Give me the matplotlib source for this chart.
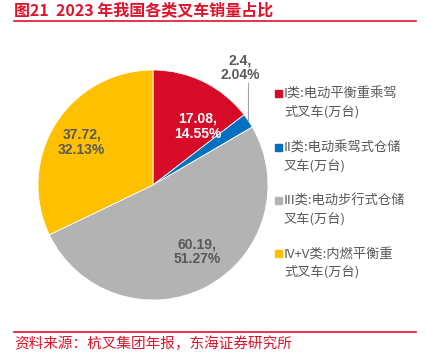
import matplotlib
matplotlib.use("Agg")
import matplotlib.pyplot as plt

W, H = 426, 357
categories = ["I类:电动平衡重乘驾\n式叉车(万台)", "II类:电动乘驾式仓储\n叉车(万台)",
              "III类:电动步行式仓储\n叉车(万台)", "IV+V类:内燃平衡重\n式叉车(万台)"]
values = [17.08, 2.4, 60.19, 37.72]
percents = ["14.55%", "2.04%", "51.27%", "32.13%"]
colors = ["#D70A28", "#0070C0", "#B3B3B3", "#FFC000"]
label_colors = ["white", "#595959", "#595959", "#595959"]

cjk = ["Noto Sans CJK SC", "DejaVu Sans"]
num = ["Liberation Sans", "DejaVu Sans"]
red = "#E0132A"

fig = plt.figure(figsize=(W / 100, H / 100), dpi=100)

def fx(px):
    return px / W

def fy(py):
    return 1 - py / H

# title and rules
fig.text(fx(14), fy(10), "图21  2023 年我国各类叉车销量占比", family=cjk, fontsize=11.5,
         fontweight="bold", color=red, va="center", ha="left")
fig.add_artist(plt.Line2D([fx(14), fx(416)], [fy(20.5), fy(20.5)], color=red, lw=1.2))
fig.add_artist(plt.Line2D([fx(14), fx(416)], [fy(332), fy(332)], color=red, lw=1.2))
fig.text(fx(14), fy(344), "资料来源：杭叉集团年报，东海证券研究所", family=cjk, fontsize=10.5,
         color=red, va="center", ha="left")

# pie
cx, cy, r = 153, 185, 115
ax = fig.add_axes([fx(cx - r), fy(cy + r), 2 * r / W, 2 * r / H])
wedges, _ = ax.pie(values, colors=colors, startangle=90, counterclock=False,
                   wedgeprops=dict(edgecolor="white", linewidth=0.6))
ax.set_xlim(-1, 1)
ax.set_ylim(-1, 1)
ax.set_aspect("equal")
ax.axis("off")

label_pos = [(0.39, 0.51), (0.76, 1.02), (0.38, -0.58), (-0.62, 0.37)]
for v, p, (lx, ly), c in zip(values, percents, label_pos, label_colors):
    ax.text(lx, ly, f"{v:g},\n{p}", ha="center", va="center", fontsize=10,
            fontweight="bold", family=num, color=c, linespacing=1.1, clip_on=False)

# leader line for small slice
ax.plot([0.826, 0.826], [0.885, 0.555], color="#A6A6A6", lw=0.8, clip_on=False)

# legend
ys = [103, 157, 210, 263]
for cat, col, y in zip(categories, colors, ys):
    fig.patches.append(plt.Rectangle((fx(275), fy(y - 10 + 4)), 7 / W, 7 / H,
                                     transform=fig.transFigure, color=col))
    fig.text(fx(284), fy(y), cat, family=cjk, fontsize=9.5, color="#595959",
             va="center", ha="left", linespacing=1.45)

fig.savefig("out.png", dpi=100)
